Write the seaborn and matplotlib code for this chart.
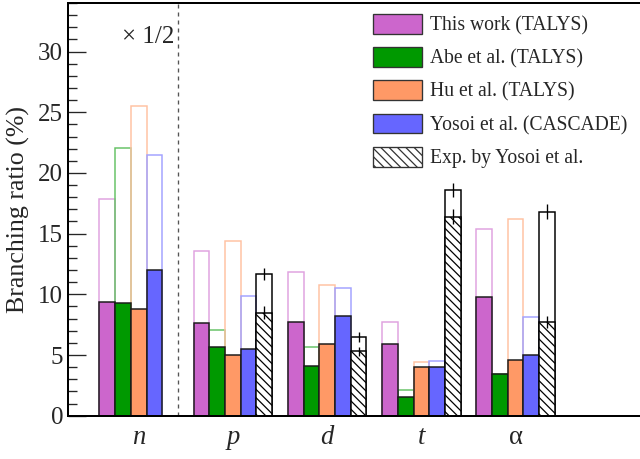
import numpy as np
import pandas as pd
import matplotlib
matplotlib.use("Agg")
import matplotlib.pyplot as plt
import matplotlib.patches as mpatches
from matplotlib.colors import to_rgb
from matplotlib.ticker import MultipleLocator
import seaborn as sns

# Emitted particle (or cluster) for each group of bars
particles = ["n", "p", "d", "t", "α"]

# Branching ratios in %. "*_part" is the filled lower bar, "*_total" the open bar.
# Neutron values are the true ones and are drawn at half scale.
this_work_part = [18.7, 7.6, 7.7, 5.9, 9.8]
this_work_total = [35.7, 13.6, 11.8, 7.7, 15.4]
abe_part = [18.6, 5.7, 4.1, 1.5, 3.4]
abe_total = [44.1, 7.1, 5.7, 2.15, 3.4]
hu_part = [17.6, 5.0, 5.9, 4.0, 4.6]
hu_total = [51.1, 14.4, 10.8, 4.4, 16.2]
yosoi_part = [24.0, 5.5, 8.2, 4.05, 5.0]
yosoi_total = [42.9, 9.9, 10.5, 4.5, 8.1]
exp_part = [np.nan, 8.5, 5.3, 16.4, 7.7]
exp_part_err = [np.nan, 0.5, 0.4, 0.6, 0.5]
exp_total = [np.nan, 11.7, 6.5, 18.6, 16.8]
exp_total_err = [np.nan, 0.5, 0.4, 0.6, 0.6]

neutron_scale = 0.5

models = ["This work (TALYS)", "Abe et al. (TALYS)", "Hu et al. (TALYS)",
          "Yosoi et al. (CASCADE)", "Exp. by Yosoi et al."]
colors = ["#cc66cc", "#009900", "#ff9966", "#6666ff", "#ffffff"]


def lighten(c, a=0.6):
    r = np.array(to_rgb(c))
    return tuple(1 - (1 - r) * a)


outline_colors = [lighten(c) for c in colors[:4]] + ["#000000"]

parts = [this_work_part, abe_part, hu_part, yosoi_part, exp_part]
totals = [this_work_total, abe_total, hu_total, yosoi_total, exp_total]

rows = []
for model, p_vals, t_vals in zip(models, parts, totals):
    for particle, pv, tv in zip(particles, p_vals, t_vals):
        if np.isnan(pv):
            continue
        s = neutron_scale if particle == "n" else 1.0
        rows.append({"particle": particle, "model": model,
                     "part": pv * s, "total": tv * s})
df = pd.DataFrame(rows)

sns.set_theme(style="ticks")
plt.rcParams["font.family"] = ["Liberation Serif", "DejaVu Serif"]
plt.rcParams["hatch.linewidth"] = 0.9

dpi = 100
fig = plt.figure(figsize=(640 / dpi, 459 / dpi), dpi=dpi)
ax = fig.add_axes([68 / 640, 43.3 / 459, 572 / 640, 412.7 / 459])

cat_width = 5 / 6
bar_lw = 1.08
hatch = "\\\\\\\\"

# open bars: total ratios
sns.barplot(data=df, x="particle", y="total", hue="model", order=particles,
            hue_order=models, palette=outline_colors, fill=False,
            width=cat_width, gap=0, errorbar=None, linewidth=bar_lw,
            legend=False, ax=ax)
n_before = len(ax.containers)

# filled bars: partial ratios
sns.barplot(data=df, x="particle", y="part", hue="model", order=particles,
            hue_order=models, palette=colors, width=cat_width, gap=0,
            errorbar=None, edgecolor="#1a1a1a", linewidth=bar_lw,
            saturation=1, legend=False, ax=ax)

filled = ax.containers[n_before:]
exp_bars = [b for b in filled[-1].patches if np.isfinite(b.get_height()) and b.get_height() > 0]
for b in exp_bars:
    b.set_hatch(hatch)
    b.set_edgecolor("black")
exp_bars.sort(key=lambda b: b.get_x())
xs = [b.get_x() + b.get_width() / 2 for b in exp_bars]

ax.errorbar(xs, exp_part[1:], yerr=exp_part_err[1:], fmt="none",
            ecolor="black", elinewidth=0.96, capsize=0, zorder=5)
ax.errorbar(xs, exp_total[1:], yerr=exp_total_err[1:], fmt="none",
            ecolor="black", elinewidth=0.96, capsize=0, zorder=5)

# separator between the half-scale neutron group and the rest
ax.axvline(cat_width / 2, color="#555555", lw=0.96, ls=(0, (3, 3)), zorder=0)
ax.text(0.14, 0.918, "× 1/2", transform=ax.transAxes, ha="center",
        va="center", fontsize=18)

ax.set_xlim(-0.75, 5.32)
ax.set_ylim(0, 34)
ax.yaxis.set_major_locator(MultipleLocator(5))
ax.yaxis.set_minor_locator(MultipleLocator(1))
ax.set_yticks(np.arange(0, 31, 5))
ax.tick_params(axis="y", which="major", direction="in", length=12.6,
               width=0.96, labelsize=18, pad=3.6)
ax.tick_params(axis="y", which="minor", direction="in", length=6.5, width=0.96)
ax.tick_params(axis="x", length=0, labelsize=19.2, pad=7)
for lab in ax.get_xticklabels():
    if lab.get_text() != "α":
        lab.set_fontstyle("italic")

ax.set_xlabel("")
ax.set_ylabel("Branching ratio (%)", fontsize=18.6)
ax.yaxis.set_label_coords(-0.066, 0.5)

for side in ["left", "bottom", "top"]:
    ax.spines[side].set_linewidth(1.44)
    ax.spines[side].set_color("black")
ax.spines["right"].set_visible(False)

handles = [mpatches.Patch(facecolor=c, edgecolor="#333333", lw=0.96)
           for c in colors[:4]]
handles.append(mpatches.Patch(facecolor="white", edgecolor="#333333",
                              lw=0.96, hatch=hatch))
fig.legend(handles, models, loc="upper left",
           bbox_to_anchor=(372.7 / 640, 1 - 14.0 / 459),
           bbox_transform=fig.transFigure, frameon=False, fontsize=14.1,
           handlelength=2.5, handleheight=1.17, handletextpad=0.45,
           labelspacing=0.6, borderpad=0, borderaxespad=0)

fig.savefig("out.png", dpi=dpi)
